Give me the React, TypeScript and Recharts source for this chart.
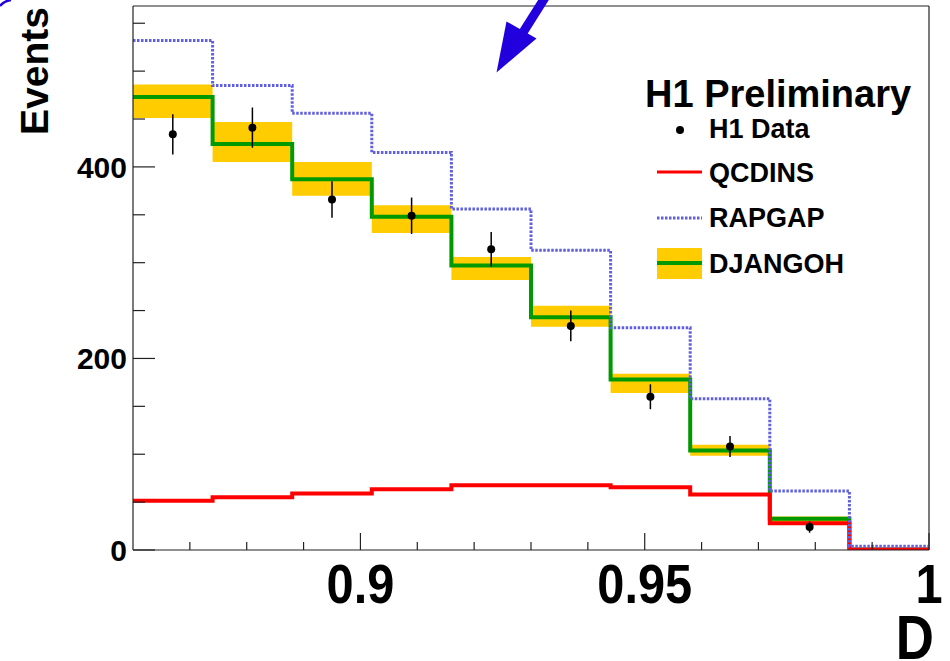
import React from "react";
import { ComposedChart, Line, Area, Scatter, ErrorBar, XAxis, YAxis, ReferenceLine } from "recharts";

// bin edges in D (10 bins from 0.86 to 1)
const binEdges = [0.86, 0.874, 0.888, 0.902, 0.916, 0.93, 0.944, 0.958, 0.972, 0.986, 1.0];

// measured events per bin (last bin empty)
const h1Data = [434, 441, 366, 349, 314, 234, 160, 108, 24];
const h1Err = [21, 21, 19, 19, 18, 16, 13, 11, 6];

// model predictions per bin
const qcdins = [51.5, 55, 59, 63.5, 67.5, 67.5, 65.5, 58, 28, 0.5];
const rapgap = [532, 485, 456, 415, 356, 313, 232, 158, 61.5, 4];
const djangoh = [473, 424, 387, 348, 297, 243, 178, 104, 32.5, 0.5];
const djangohLow = [451, 405, 370, 331, 282, 233, 164, 98.5, 29, 0];
const djangohHigh = [486, 447, 405, 360, 306, 255, 184, 110, 35, 1];

const xTicks = [0.87, 0.88, 0.89, 0.9, 0.91, 0.92, 0.93, 0.94, 0.95, 0.96, 0.97, 0.98, 0.99, 1];
const xMajor = [0.9, 0.95, 1];
const yTicks = [0, 50, 100, 150, 200, 250, 300, 350, 400, 450, 500, 550];
const yMajor = [0, 200, 400];
const Y_MAX = 568;

const FONT = '"Liberation Sans", Arial, Helvetica, sans-serif';
const AXIS = "#222";

// histogram rows at bin edges; last edge repeats the last bin so stepAfter closes it
const histRows = binEdges.map((x, i) => {
  const j = Math.min(i, qcdins.length - 1);
  return {
    x,
    qcdins: qcdins[j],
    rapgap: rapgap[j],
    djangoh: djangoh[j],
    band: [djangohLow[j], djangohHigh[j]],
  };
});

const dataPoints = h1Data.map((y, i) => ({
  x: (binEdges[i] + binEdges[i + 1]) / 2,
  y,
  err: h1Err[i],
}));

const isMajor = (list: number[], v: number) => list.some((m) => Math.abs(m - v) < 1e-6);

const XTick = ({ x, y, payload }: any) => {
  const major = isMajor(xMajor, payload.value);
  return (
    <g>
      <line x1={x} x2={x} y1={y} y2={y - (major ? 17 : 8)} stroke={AXIS} strokeWidth={1.2} />
      {major && (
        <text
          transform={`translate(${x},${y + 53}) scale(0.87,1)`}
          textAnchor="middle"
          fontFamily={FONT}
          fontWeight="bold"
          fontSize={56}
          fill="#000"
        >
          {String(payload.value)}
        </text>
      )}
    </g>
  );
};

const YTick = ({ x, y, payload }: any) => {
  const major = isMajor(yMajor, payload.value);
  return (
    <g>
      <line x1={x} x2={x + (major ? 22 : 12)} y1={y} y2={y} stroke={AXIS} strokeWidth={1.2} />
      {major && (
        <text x={x - 6} y={y + 11} textAnchor="end" fontFamily={FONT} fontWeight="bold" fontSize={30} fill="#000">
          {payload.value}
        </text>
      )}
    </g>
  );
};

const DataDot = ({ cx, cy }: any) => <circle cx={cx} cy={cy} r={4} fill="#000" />;

function Legend() {
  const txt = { fontFamily: FONT, fontWeight: "bold" as const, fill: "#000" };
  return (
    <svg width={950} height={661} style={{ position: "absolute", left: 0, top: 0, pointerEvents: "none" }}>
      {/* arrow pointing into the plot */}
      <line x1={546} y1={-4} x2={522} y2={34} stroke="#2200dd" strokeWidth={9} />
      <polygon points="506.5,21.5 536.5,38.5 496.5,72.5" fill="#2200dd" />
      <path d="M0,6 Q4,1 11,0" stroke="#2200dd" strokeWidth={2.5} fill="none" />

      <text x={645} y={107} fontSize={38} {...txt}>H1 Preliminary</text>

      <circle cx={680} cy={130} r={4} fill="#000" />
      <text x={709} y={138} fontSize={27} {...txt}>H1 Data</text>

      <line x1={657} x2={702} y1={172} y2={172} stroke="#ff0000" strokeWidth={3} />
      <text x={709} y={182} fontSize={27} {...txt}>QCDINS</text>

      <line x1={657} x2={702} y1={218} y2={218} stroke="#6060e0" strokeWidth={3} strokeDasharray="2.5 1.5" />
      <text x={709} y={227} fontSize={27} {...txt}>RAPGAP</text>

      <rect x={657} y={248} width={45} height={31} fill="#ffcc00" />
      <line x1={657} x2={702} y1={263} y2={263} stroke="#009900" strokeWidth={4} />
      <text x={709} y={273} fontSize={27} {...txt}>DJANGOH</text>
    </svg>
  );
}

export default function App() {
  return (
    <div style={{ position: "absolute", left: 0, top: 0, width: 950, height: 661, background: "#fff" }}>
      <ComposedChart width={950} height={661} data={histRows} margin={{ top: 6, right: 21, bottom: 51, left: 73 }}>
        <XAxis
          dataKey="x"
          type="number"
          domain={[0.86, 1]}
          allowDataOverflow
          ticks={xTicks}
          interval={0}
          tick={<XTick />}
          tickLine={false}
          tickSize={0}
          tickMargin={0}
          height={60}
          axisLine={{ stroke: AXIS, strokeWidth: 1.2 }}
          label={{
            content: ({ viewBox }: any) => (
              <text
                transform={`translate(${viewBox.x + viewBox.width + 5},${viewBox.y + 109}) scale(0.84,1)`}
                textAnchor="end"
                fontFamily={FONT}
                fontWeight="bold"
                fontSize={63}
                fill="#000"
              >
                D
              </text>
            ),
          }}
        />
        <YAxis
          type="number"
          domain={[0, Y_MAX]}
          allowDataOverflow
          ticks={yTicks}
          interval={0}
          tick={<YTick />}
          tickLine={false}
          tickSize={0}
          tickMargin={0}
          width={60}
          axisLine={{ stroke: AXIS, strokeWidth: 1.2 }}
          label={{
            content: () => (
              <text
                x={48}
                y={7}
                transform="rotate(-90, 48, 7)"
                textAnchor="end"
                fontFamily={FONT}
                fontWeight="bold"
                fontSize={39}
                fill="#000"
              >
                Events
              </text>
            ),
          }}
        />
        <ReferenceLine x={1} stroke={AXIS} strokeWidth={1.2} />
        <ReferenceLine y={Y_MAX} stroke={AXIS} strokeWidth={1.2} />

        <Area
          dataKey="band"
          type="stepAfter"
          fill="#ffcc00"
          fillOpacity={1}
          stroke="none"
          isAnimationActive={false}
          activeDot={false}
        />
        <Line dataKey="djangoh" type="stepAfter" stroke="#009900" strokeWidth={4} dot={false} activeDot={false} isAnimationActive={false} />
        <Line dataKey="qcdins" type="stepAfter" stroke="#ff0000" strokeWidth={4} dot={false} activeDot={false} isAnimationActive={false} />
        <Line
          dataKey="rapgap"
          type="stepAfter"
          stroke="#6060e0"
          strokeWidth={3}
          strokeDasharray="2.5 1.5"
          dot={false}
          activeDot={false}
          isAnimationActive={false}
        />
        <Scatter data={dataPoints} dataKey="y" shape={<DataDot />} isAnimationActive={false}>
          <ErrorBar dataKey="err" direction="y" width={0} stroke="#000" strokeWidth={1.5} isAnimationActive={false} />
        </Scatter>
      </ComposedChart>
      <Legend />
    </div>
  );
}
